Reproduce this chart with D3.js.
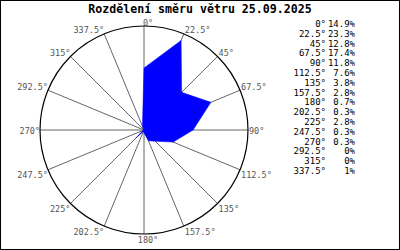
<!DOCTYPE html>
<html>
<head>
<meta charset="utf-8">
<script src="https://cdn.jsdelivr.net/npm/d3@7"></script>
<style>
    body { margin: 0; background: white; }
    svg { display: block; }
</style>
</head>
<body>
<script>
let directions = [0, 22.5, 45, 67.5, 90, 112.5, 135, 157.5, 180, 202.5, 225, 247.5, 270, 292.5, 315, 337.5];
let dirLabels = ["0°", "22.5°", "45°", "67.5°", "90°", "112.5°", "135°", "157.5°", "180°", "202.5°", "225°", "247.5°", "270°", "292.5°", "315°", "337.5°"];
let percents = [14.9, 23.3, 12.8, 17.4, 11.8, 7.6, 3.8, 2.8, 0.7, 0.3, 2.8, 0.3, 0.3, 0, 0, 1];
let pctLabels = ["14.9%", "23.3%", "12.8%", "17.4%", "11.8%", "7.6%", "3.8%", "2.8%", "0.7%", "0.3%", "2.8%", "0.3%", "0.3%", "0%", "0%", "1%"];
let titleText = "Rozdělení směru větru 25.09.2025";
let maxPercent = 25;

let w = 400;
let h = 250;
let cx = 144;
let cy = 130;
let radius = 104;
let mono = "'DejaVu Sans Mono', monospace";

const svg = d3.select('body')
    .append('svg')
    .attr('width', w)
    .attr('height', h)
    .style("background-color", "white");

svg.append("rect")
    .attr("x", 0.5).attr("y", 0.5)
    .attr("width", w - 1).attr("height", h - 1)
    .attr("fill", "white").attr("stroke", "black");

const rScale = d3.scaleLinear()
    .domain([0, maxPercent])
    .range([0, radius]);

const aScale = d3.scaleLinear()
    .domain([0, 360])
    .range([0, 2 * Math.PI]);

const chart = svg.append("g")
    .attr("transform", "translate(" + cx + "," + cy + ")");

// paprsky
chart.selectAll("line.spoke")
    .data(directions)
    .enter()
    .append("line")
    .attr("class", "spoke")
    .attr("x1", 0).attr("y1", 0)
    .attr("x2", (d) => rScale(maxPercent) * Math.sin(aScale(d)))
    .attr("y2", (d) => -rScale(maxPercent) * Math.cos(aScale(d)))
    .attr("stroke", "#666")
    .attr("stroke-width", 1);

chart.append("circle")
    .attr("r", rScale(maxPercent))
    .attr("fill", "none")
    .attr("stroke", "black")
    .attr("stroke-width", 1.2);

let line = d3.lineRadial()
    .angle((d, i) => aScale(directions[i]))
    .radius((d) => rScale(d))
    .curve(d3.curveLinearClosed);

chart.append("path")
    .datum(percents)
    .attr("d", line)
    .attr("fill", "#0000ff")
    .attr("stroke", "#0000ff")
    .attr("stroke-width", 0.5);

// popisky uhlu
chart.selectAll("text.dir")
    .data(directions)
    .enter()
    .append("text")
    .attr("class", "dir")
    .attr("x", function (d) {
        let s = Math.sin(aScale(d));
        let x = rScale(maxPercent) * s;
        if (Math.abs(s) < 0.01) return x + 4;
        return s > 0 ? x + 1 : x;
    })
    .attr("y", function (d) {
        let c = Math.cos(aScale(d));
        let y = -rScale(maxPercent) * c;
        if (Math.abs(c) < 0.01) return y + 4;
        return c > 0 ? y - 0.5 : y + 8.7;
    })
    .attr("text-anchor", function (d) {
        let s = Math.sin(aScale(d));
        if (Math.abs(s) < 0.01) return "middle";
        return s > 0 ? "start" : "end";
    })
    .attr("fill", "#555")
    .style("font-family", mono)
    .style("font-size", "8.5px")
    .text((d, i) => dirLabels[i]);

svg.append("text")
    .attr("x", 200)
    .attr("y", 13)
    .attr("text-anchor", "middle")
    .style("font-family", mono)
    .style("font-weight", "bold")
    .style("font-size", "11.6px")
    .text(titleText);

// legenda
const legend = svg.append("g").attr("id", "legend");

legend.selectAll("text.deg")
    .data(dirLabels)
    .enter()
    .append("text")
    .attr("class", "deg")
    .attr("x", 326)
    .attr("y", (d, i) => 27 + i * 9.8)
    .attr("text-anchor", "end")
    .style("font-family", mono)
    .style("font-size", "9px")
    .text((d) => d);

legend.selectAll("text.pct")
    .data(pctLabels)
    .enter()
    .append("text")
    .attr("class", "pct")
    .attr("x", 355)
    .attr("y", (d, i) => 27 + i * 9.8)
    .attr("text-anchor", "end")
    .style("font-family", mono)
    .style("font-size", "9px")
    .text((d) => d);
</script>
</body>
</html>
